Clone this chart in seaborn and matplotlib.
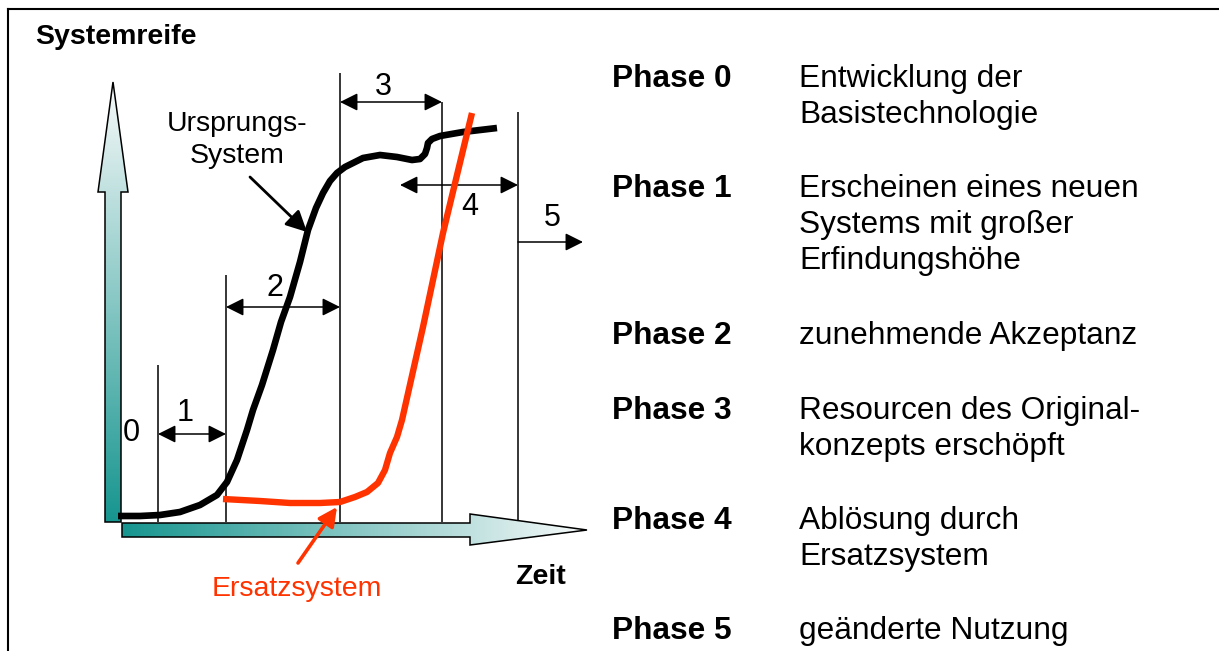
import matplotlib.pyplot as plt
import numpy as np
import pandas as pd
import seaborn as sns
from matplotlib.colors import LinearSegmentedColormap
from matplotlib.patches import Polygon

# Ursprungs-System: time vs. system maturity (diagram units)
ORIG_TIME = [-2, 20, 40, 60, 80, 97, 107, 117, 127, 133, 142, 153, 161, 170,
             180, 188, 196, 203, 210, 217, 225, 233, 243, 260, 277, 292, 300,
             305, 307, 308, 312, 320, 343, 360, 377]
ORIG_LEVEL = [6, 6, 7, 10, 17, 27, 40, 62, 92, 112, 137, 172, 200, 225,
              260, 292, 314, 329, 341, 349, 355, 359, 364, 367, 365, 362, 363,
              368, 374, 379, 383, 386, 390, 392, 394]

# Ersatzsystem
REPL_TIME = [103, 140, 170, 200, 220, 235, 247, 258, 265, 270, 277, 282,
             303, 323, 352]
REPL_LEVEL = [23, 21, 19, 19, 20, 25, 30, 39, 52, 69, 85, 102, 195, 289, 409]

# phase boundaries on the time axis and how far up each line reaches
PHASE_BOUNDS = [38, 106, 220, 322, 398]
BOUND_TOPS = [157, 247, 449, 420, 410]

PHASE_NUMBERS = ["0", "1", "2", "3", "4", "5"]
PHASE_NAMES = ["Phase 0", "Phase 1", "Phase 2", "Phase 3", "Phase 4", "Phase 5"]
PHASE_TEXTS = [
    ["Entwicklung der", "Basistechnologie"],
    ["Erscheinen eines neuen", "Systems mit großer", "Erfindungshöhe"],
    ["zunehmende Akzeptanz"],
    ["Resourcen des Original-", "konzepts erschöpft"],
    ["Ablösung durch", "Ersatzsystem"],
    ["geänderte Nutzung"],
]

TEAL = "#17958f"
RED = "#ff3300"

sns.set_theme(style="white")
plt.rcParams["font.family"] = ["Liberation Sans", "DejaVu Sans"]
plt.rcParams["text.color"] = "black"


def gradient_arrow(ax, verts, vertical, cmap):
    poly = Polygon(verts, closed=True, facecolor="none", edgecolor="black",
                   lw=1.1, zorder=3)
    ax.add_patch(poly)
    xs = [v[0] for v in verts]
    ys = [v[1] for v in verts]
    ramp = np.linspace(0, 1, 256)
    grad = ramp[:, None] if vertical else ramp[None, :]
    im = ax.imshow(grad, cmap=cmap, origin="lower", aspect="auto",
                   extent=(min(xs), max(xs), min(ys), max(ys)), zorder=2)
    im.set_clip_path(poly)


def main():
    fig = plt.figure(figsize=(12.19, 6.51), dpi=100)
    ax = fig.add_axes([0, 0, 1, 1])
    ax.set_axis_off()

    cmap = LinearSegmentedColormap.from_list("teal_fade", [TEAL, "#f8fafa"])

    # axis arrows with teal fade
    gradient_arrow(ax, [(-15, 0), (1, 0), (1, 330), (8, 330), (-7, 440),
                        (-22, 330), (-15, 330)], True, cmap)
    gradient_arrow(ax, [(2, -1), (350, -1), (350, 8), (467, -8), (350, -23),
                        (350, -15), (2, -15)], False, cmap)

    # phase boundaries
    ax.vlines(PHASE_BOUNDS, 0, BOUND_TOPS, color="black", lw=1.1, zorder=1)

    orig = pd.DataFrame({"zeit": ORIG_TIME, "reife": ORIG_LEVEL})
    repl = pd.DataFrame({"zeit": REPL_TIME, "reife": REPL_LEVEL})
    sns.lineplot(data=orig, x="zeit", y="reife", sort=False, estimator=None,
                 color="black", lw=4.8, ax=ax, zorder=4,
                 solid_capstyle="butt", solid_joinstyle="round")
    sns.lineplot(data=repl, x="zeit", y="reife", sort=False, estimator=None,
                 color=RED, lw=4.6, ax=ax, zorder=5, solid_capstyle="butt",
                 solid_joinstyle="round")

    # phase span arrows
    spans = [
        (PHASE_BOUNDS[0], PHASE_BOUNDS[1], 88, "<|-|>"),
        (PHASE_BOUNDS[1], PHASE_BOUNDS[2], 215, "<|-|>"),
        (PHASE_BOUNDS[2], PHASE_BOUNDS[3], 420, "<|-|>"),
        (280, PHASE_BOUNDS[4], 337, "<|-|>"),
        (PHASE_BOUNDS[4], 463, 280, "-|>"),
    ]
    for start, end, level, style in spans:
        ax.annotate("", xy=(end, level), xytext=(start, level),
                    arrowprops=dict(
                        arrowstyle=f"{style},head_length=0.6,head_width=0.3",
                        mutation_scale=18, color="black", lw=1.1,
                        shrinkA=0, shrinkB=0),
                    zorder=3)

    label_pos = [(11, 89), (65, 109), (155, 234), (263, 435), (350, 315),
                 (432, 304)]
    for num, (x, y) in zip(PHASE_NUMBERS, label_pos):
        ax.text(x, y, num, fontsize=22, ha="center", va="center",
                color="black", zorder=6)

    # curve annotations
    ax.text(117, 382, "Ursprungs-\nSystem", fontsize=20.5, ha="center",
            va="center", linespacing=1.32, color="black")
    ax.annotate("", xy=(187, 290), xytext=(130, 345),
                arrowprops=dict(arrowstyle="-|>,head_length=0.7,head_width=0.35",
                                mutation_scale=18, color="black", lw=2,
                                shrinkA=0, shrinkB=0))
    ax.text(177, -67, "Ersatzsystem", fontsize=20.5, ha="center",
            va="center", color=RED)
    ax.annotate("", xy=(217, 15), xytext=(178, -41),
                arrowprops=dict(arrowstyle="-|>,head_length=0.7,head_width=0.35",
                                mutation_scale=16, color=RED, lw=2.6,
                                shrinkA=0, shrinkB=0))

    ax.text(-85, 485, "Systemreife", fontsize=20.5, fontweight="bold",
            ha="left", va="center")
    ax.text(420, -55, "Zeit", fontsize=20.5, fontweight="bold",
            ha="center", va="center")

    # phase legend on the right
    row_levels = [443, 333, 186, 111, 1, -109]
    line_step = 36
    for name, lines, y in zip(PHASE_NAMES, PHASE_TEXTS, row_levels):
        ax.text(492, y, name, fontsize=22.8, fontweight="bold",
                ha="left", va="center")
        for k, line in enumerate(lines):
            ax.text(679, y - k * line_step, line, fontsize=22.8,
                    ha="left", va="center")

    # frame (left and top edges visible)
    ax.plot([-112, -112], [-140, 513], color="black", lw=1.5,
            solid_capstyle="projecting")
    ax.plot([-112, 1110], [513, 513], color="black", lw=1.5,
            solid_capstyle="projecting")

    ax.set_xlim(-120, 1099)
    ax.set_ylim(-129, 522)

    fig.savefig("out.png", dpi=100)
    plt.close(fig)


if __name__ == "__main__":
    main()
